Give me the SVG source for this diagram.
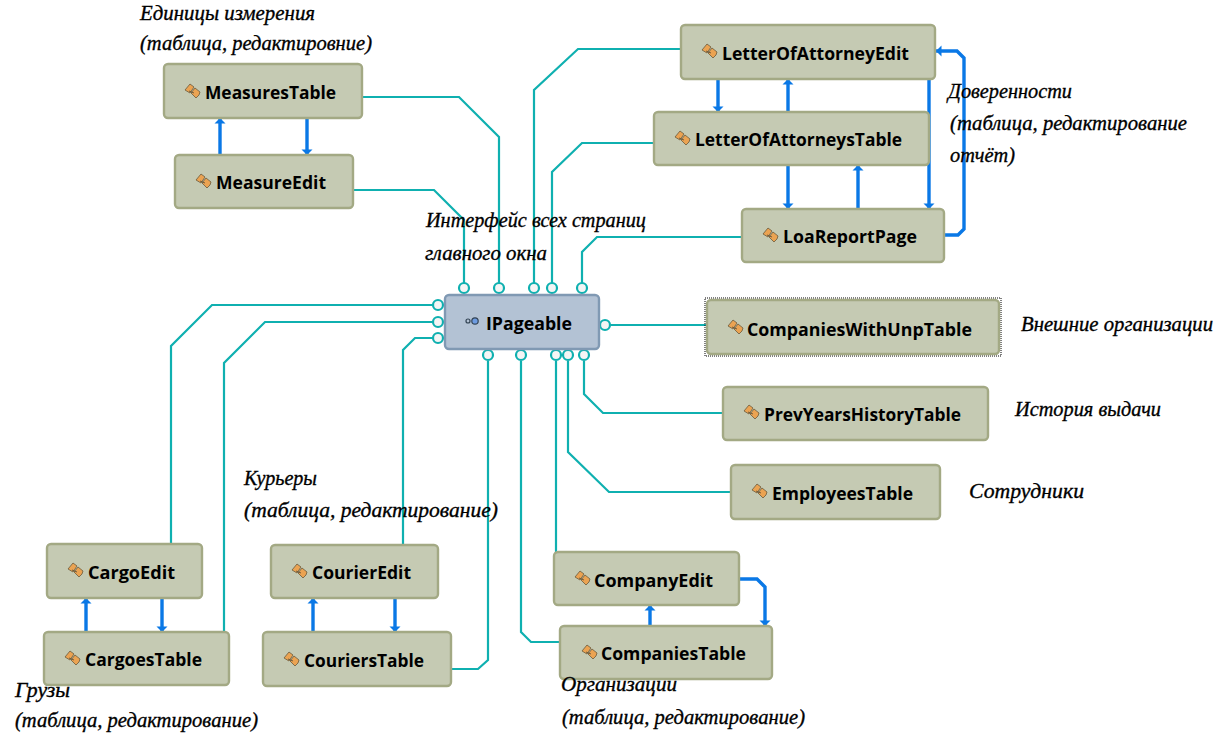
<svg xmlns="http://www.w3.org/2000/svg" width="1232" height="736" viewBox="0 0 1232 736">
<style>
.n{fill:#c5cab3;stroke:#a3a984;stroke-width:2.4}
.i{fill:#b3c2d4;stroke:#8099b3;stroke-width:2.4}
.t{font-family:"Open Sans","Noto Sans",sans-serif;font-weight:700;font-size:18px;fill:#000;lengthAdjust:spacingAndGlyphs}
.h{font-family:"Liberation Serif",serif;font-style:italic;font-size:21px;fill:#000;stroke:#000;stroke-width:.35}
.c{fill:none;stroke:#0fb0b0;stroke-width:2.2}
.o{fill:#f5f5f5;stroke:#0fb0b0;stroke-width:2.2}
.b{fill:none;stroke:#0a78e6;stroke-width:3.4;marker-end:url(#a)}
</style>
<defs>
<marker id="a" markerUnits="userSpaceOnUse" markerWidth="12" markerHeight="12" refX="10" refY="6" orient="auto"><path d="M4.5 .5L10 6L4.5 11.5Z" fill="#0a78e6"/></marker>
<g id="ic"><path d="M0 6L5 0L9 3L5 9Z" fill="#eba352" stroke="#6b5a3c" stroke-width=".8"/><path d="M6 9L10 4L15 8L14 11L11 14Z" fill="#eba352" stroke="#6b5a3c" stroke-width=".8"/><path d="M4 7L9 9" stroke="#6b5a3c" stroke-width="1"/></g>
</defs>
<g id="connectors">
<path class="c" d="M362 97H459L499 137V283"/>
<path class="c" d="M353 190H434L464 220V283"/>
<path class="c" d="M681 49H578L534 90V283"/>
<path class="c" d="M654 143H582L552 172V283"/>
<path class="c" d="M742 237H597L582 252V283"/>
<path class="c" d="M707 325H611"/>
<path class="c" d="M171 544V346L212 305H432"/>
<path class="c" d="M224 632V363L265 322H432"/>
<path class="c" d="M403 545V350L415 338H432"/>
<path class="c" d="M451 669H478L488 660V361"/>
<path class="c" d="M560 642H531L521 632V361"/>
<path class="c" d="M556 552V361"/>
<path class="c" d="M731 492H609L568 452V361"/>
<path class="c" d="M723 413H603L584 394V361"/>
<path class="b" d="M220 155V118"/><path class="b" d="M307 118V155"/>
<path class="b" d="M718 79V112"/><path class="b" d="M788 112V79"/>
<path class="b" d="M788 165V209"/><path class="b" d="M858 209V165"/>
<path class="b" d="M929 79V209"/>
<path class="b" d="M944 235H958L964 229V58L957 51H936"/>
<path class="b" d="M86 632V598"/><path class="b" d="M162 598V632"/>
<path class="b" d="M313 632V598"/><path class="b" d="M395 598V632"/>
<path class="b" d="M650 626V605"/>
<path class="b" d="M739 579H757L765 587V626"/>
<circle class="o" cx="464" cy="288" r="5"/><circle class="o" cx="499" cy="288" r="5"/><circle class="o" cx="534" cy="288" r="5"/><circle class="o" cx="552" cy="288" r="5"/><circle class="o" cx="582" cy="288" r="5"/>
<circle class="o" cx="438" cy="305" r="5"/><circle class="o" cx="438" cy="322" r="5"/><circle class="o" cx="438" cy="338" r="5"/>
<circle class="o" cx="605" cy="325" r="5"/>
<circle class="o" cx="488" cy="355" r="5"/><circle class="o" cx="521" cy="355" r="5"/><circle class="o" cx="556" cy="355" r="5"/><circle class="o" cx="568" cy="355" r="5"/><circle class="o" cx="584" cy="355" r="5"/>
</g>
<g id="IPageable"><rect class="i" x="445" y="295" width="154" height="54" rx="4"/><circle cx="475" cy="321" r="3.2" fill="#6d9be0" stroke="#345" stroke-width="1.2"/><circle cx="468" cy="321" r="2" fill="none" stroke="#345" stroke-width="1.2"/><text class="t" x="486" y="330" textLength="86" lengthAdjust="spacingAndGlyphs">IPageable</text></g>
<g id="MeasuresTable"><rect class="n" x="164" y="64" width="198" height="54" rx="4"/><use href="#ic" x="185" y="84"/><text class="t" x="205" y="99" textLength="131" lengthAdjust="spacingAndGlyphs">MeasuresTable</text></g>
<g id="MeasureEdit"><rect class="n" x="175" y="155" width="178" height="53" rx="4"/><use href="#ic" x="196" y="174"/><text class="t" x="216" y="189" textLength="110" lengthAdjust="spacingAndGlyphs">MeasureEdit</text></g>
<g id="LetterOfAttorneyEdit"><rect class="n" x="681" y="25" width="254" height="54" rx="4"/><use href="#ic" x="702" y="44"/><text class="t" x="722" y="60" textLength="187" lengthAdjust="spacingAndGlyphs">LetterOfAttorneyEdit</text></g>
<g id="LetterOfAttorneysTable"><rect class="n" x="654" y="112" width="275" height="53" rx="4"/><use href="#ic" x="675" y="131"/><text class="t" x="695" y="146" textLength="207" lengthAdjust="spacingAndGlyphs">LetterOfAttorneysTable</text></g>
<g id="LoaReportPage"><rect class="n" x="742" y="209" width="202" height="53" rx="4"/><use href="#ic" x="763" y="228"/><text class="t" x="783" y="243" textLength="134" lengthAdjust="spacingAndGlyphs">LoaReportPage</text></g>
<g id="CompaniesWithUnpTable"><rect x="705" y="298" width="296" height="58" fill="none" stroke="#000" stroke-dasharray="1 1"/><rect class="n" x="707" y="300" width="292" height="54" rx="4"/><use href="#ic" x="728" y="320"/><text class="t" x="747" y="336" textLength="225" lengthAdjust="spacingAndGlyphs">CompaniesWithUnpTable</text></g>
<g id="PrevYearsHistoryTable"><rect class="n" x="723" y="387" width="265" height="53" rx="4"/><use href="#ic" x="744" y="405"/><text class="t" x="764" y="421" textLength="197" lengthAdjust="spacingAndGlyphs">PrevYearsHistoryTable</text></g>
<g id="EmployeesTable"><rect class="n" x="731" y="465" width="209" height="54" rx="4"/><use href="#ic" x="752" y="484"/><text class="t" x="772" y="500" textLength="141" lengthAdjust="spacingAndGlyphs">EmployeesTable</text></g>
<g id="CargoEdit"><rect class="n" x="47" y="544" width="155" height="54" rx="4"/><use href="#ic" x="68" y="563"/><text class="t" x="88" y="579" textLength="87" lengthAdjust="spacingAndGlyphs">CargoEdit</text></g>
<g id="CargoesTable"><rect class="n" x="44" y="632" width="185" height="53" rx="4"/><use href="#ic" x="65" y="651"/><text class="t" x="85" y="666" textLength="117" lengthAdjust="spacingAndGlyphs">CargoesTable</text></g>
<g id="CourierEdit"><rect class="n" x="271" y="545" width="167" height="53" rx="4"/><use href="#ic" x="292" y="564"/><text class="t" x="312" y="579" textLength="99" lengthAdjust="spacingAndGlyphs">CourierEdit</text></g>
<g id="CouriersTable"><rect class="n" x="263" y="632" width="188" height="54" rx="4"/><use href="#ic" x="284" y="652"/><text class="t" x="304" y="667" textLength="120" lengthAdjust="spacingAndGlyphs">CouriersTable</text></g>
<g id="CompanyEdit"><rect class="n" x="554" y="552" width="185" height="53" rx="4"/><use href="#ic" x="575" y="571"/><text class="t" x="594" y="587" textLength="119" lengthAdjust="spacingAndGlyphs">CompanyEdit</text></g>
<g id="CompaniesTable"><rect class="n" x="560" y="626" width="212" height="53" rx="4"/><use href="#ic" x="582" y="645"/><text class="t" x="601" y="660" textLength="145" lengthAdjust="spacingAndGlyphs">CompaniesTable</text></g>
<g id="labels">
<text class="h" x="140" y="20" textLength="175" lengthAdjust="spacingAndGlyphs">Единицы измерения</text>
<text class="h" x="140" y="50" textLength="232" lengthAdjust="spacingAndGlyphs">(таблица, редактировние)</text>
<text class="h" x="426" y="227" textLength="220" lengthAdjust="spacingAndGlyphs">Интерфейс всех страниц</text>
<text class="h" x="425" y="260" textLength="122" lengthAdjust="spacingAndGlyphs">главного окна</text>
<text class="h" x="948" y="98" textLength="124" lengthAdjust="spacingAndGlyphs">Доверенности</text>
<text class="h" x="950" y="130" textLength="237" lengthAdjust="spacingAndGlyphs">(таблица, редактирование</text>
<text class="h" x="950" y="162" textLength="65" lengthAdjust="spacingAndGlyphs">отчёт)</text>
<text class="h" x="1021" y="331" textLength="192" lengthAdjust="spacingAndGlyphs">Внешние организации</text>
<text class="h" x="1015" y="416" textLength="146" lengthAdjust="spacingAndGlyphs">История выдачи</text>
<text class="h" x="969" y="498" textLength="115" lengthAdjust="spacingAndGlyphs">Сотрудники</text>
<text class="h" x="244" y="485" textLength="73" lengthAdjust="spacingAndGlyphs">Курьеры</text>
<text class="h" x="244" y="517" textLength="254" lengthAdjust="spacingAndGlyphs">(таблица, редактирование)</text>
<text class="h" x="15" y="697" textLength="55" lengthAdjust="spacingAndGlyphs">Грузы</text>
<text class="h" x="15" y="727" textLength="243" lengthAdjust="spacingAndGlyphs">(таблица, редактирование)</text>
<text class="h" x="561" y="691" textLength="116" lengthAdjust="spacingAndGlyphs">Организации</text>
<text class="h" x="562" y="724" textLength="243" lengthAdjust="spacingAndGlyphs">(таблица, редактирование)</text>
</g>
</svg>
